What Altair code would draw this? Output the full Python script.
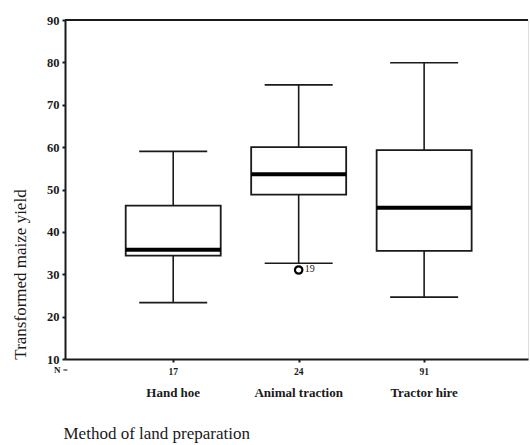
import altair as alt
import pandas as pd

# Transformed maize yield by method of land preparation (box-plot summary)
methods = ["Hand hoe", "Animal traction", "Tractor hire"]
n_counts = ["17", "24", "91"]
whisker_low = [23.3, 32.6, 24.6]
q1 = [34.4, 48.8, 35.5]
median = [35.8, 53.6, 45.7]
q3 = [46.2, 60.0, 59.3]
whisker_high = [59.0, 74.7, 79.9]

outlier_method = ["Animal traction"]
outlier_value = [31.0]
outlier_case = ["19"]

y_ticks = [10, 20, 30, 40, 50, 60, 70, 80, 90]

SERIF = "Liberation Serif"
INK = "#1a1a1a"

summary = pd.DataFrame({
    "method": methods,
    "pos": list(range(1, len(methods) + 1)),
    "n": n_counts,
    "low": whisker_low,
    "q1": q1,
    "median": median,
    "q3": q3,
    "high": whisker_high,
})
out = pd.DataFrame({
    "pos": [methods.index(m) + 1 for m in outlier_method],
    "value": outlier_value,
    "case": outlier_case,
})

xscale = alt.Scale(domain=[0.1774, 3.788], nice=False, zero=False)
yscale = alt.Scale(domain=[10, 90], nice=False, zero=False)

x_enc = alt.X(
    "pos:Q", scale=xscale,
    axis=alt.Axis(
        values=[1, 2, 3], labels=False, grid=False, tickSize=3, tickWidth=2,
        tickColor=INK, domainColor=INK, domainWidth=2,
        title="Method of land preparation", titleFont=SERIF, titleFontSize=17,
        titleFontWeight="normal", titleColor=INK, titleAnchor="start",
        titleAlign="left", titleX=-2, titleY=74, titleBaseline="middle",
    ),
)

y_enc = alt.Y(
    "low:Q", scale=yscale,
    axis=alt.Axis(
        values=y_ticks, grid=False, tickSize=3, tickWidth=2, tickColor=INK,
        domainColor=INK, domainWidth=2, labelFont=SERIF, labelFontSize=12.5,
        labelFontWeight="bold", labelColor=INK, labelPadding=3,
        title="Transformed maize yield", titleFont=SERIF, titleFontSize=17,
        titleFontWeight="normal", titleColor=INK, titleX=-45, titleY=254,
        titleAngle=270, titleAlign="center", titleBaseline="middle",
    ),
)

base = alt.Chart(summary)

whisker = base.mark_rule(color=INK, strokeWidth=1.6).encode(
    x=x_enc, y=y_enc, y2="high:Q",
)

caps_low = base.mark_tick(
    color=INK, size=68, thickness=1.6, orient="horizontal", opacity=1
).encode(x="pos:Q", y="low:Q")
caps_high = base.mark_tick(
    color=INK, size=68, thickness=1.6, orient="horizontal", opacity=1
).encode(x="pos:Q", y="high:Q")

box = base.mark_bar(size=95, fill="white", stroke=INK, strokeWidth=1.8, opacity=1).encode(
    x="pos:Q", y="q1:Q", y2="q3:Q"
)

med = base.mark_tick(
    color="#000000", size=95, thickness=4, orient="horizontal", opacity=1
).encode(x="pos:Q", y="median:Q")

top_frame = alt.Chart(pd.DataFrame({"v": [90]})).mark_rule(color=INK, strokeWidth=2).encode(
    y="v:Q", x=alt.value(0), x2=alt.value(463)
)

out_pt = alt.Chart(out).mark_point(
    shape="circle", size=55, filled=False, stroke="#000000", strokeWidth=2.2, opacity=1
).encode(x="pos:Q", y="value:Q")
out_lbl = alt.Chart(out).mark_text(
    align="left", baseline="middle", dx=6, dy=-1, font=SERIF, fontSize=10, color=INK
).encode(x="pos:Q", y="value:Q", text="case:N")

n_text = base.mark_text(
    baseline="middle", font=SERIF, fontSize=9.5, fontWeight="bold", color=INK
).encode(x="pos:Q", y=alt.value(352), text="n:N")

n_head = alt.Chart(pd.DataFrame({"t": ["N ="]})).mark_text(
    baseline="middle", font=SERIF, fontSize=9, fontWeight="bold", color=INK
).encode(x=alt.value(-4), y=alt.value(350), text="t:N")

cat_text = base.mark_text(
    baseline="middle", font=SERIF, fontSize=13, fontWeight="bold", color=INK
).encode(x="pos:Q", y=alt.value(373), text="method:N")

chart = alt.layer(
    whisker, top_frame, caps_low, caps_high, box, med, out_pt, out_lbl,
    n_text, n_head, cat_text,
).properties(
    width=463, height=339,
    padding={"left": 65, "top": 20, "right": 2, "bottom": 86},
    autosize=alt.AutoSizeParams(type="none"),
).configure_view(stroke=None).configure(background="white")

chart.save("out.html", embed_options={"renderer": "svg", "actions": False})
